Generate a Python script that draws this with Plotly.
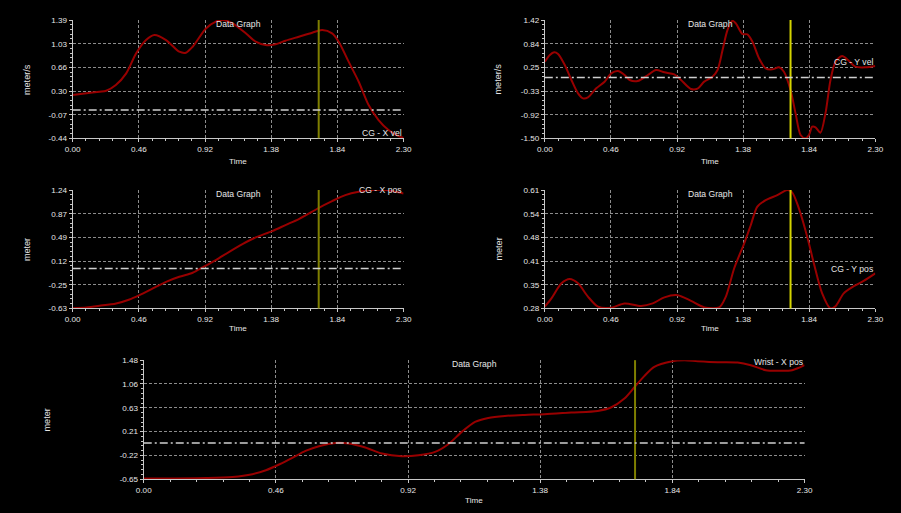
import plotly.graph_objects as go
import numpy as np

W, H = 901, 513

# ---------------- data ----------------
x_ticktext = ["0.00", "0.46", "0.92", "1.38", "1.84", "2.30"]
x_range = [0.0, 2.30]
cursor_time = 1.71

# Panel 1: CG - X vel
t1 = [0, 0.095, 0.187, 0.233, 0.30, 0.372, 0.441, 0.51, 0.568, 0.649, 0.741, 0.787, 0.834, 0.926,
      0.995, 1.041, 1.111, 1.203, 1.272, 1.341, 1.41, 1.479, 1.572, 1.665, 1.734, 1.803, 1.849,
      1.918, 1.988, 2.057, 2.126, 2.195, 2.265, 2.30]
v1 = [0.23, 0.256, 0.282, 0.297, 0.385, 0.565, 0.874, 1.08, 1.158, 1.08, 0.90, 0.885, 0.977, 1.26,
      1.364, 1.39, 1.338, 1.184, 1.055, 1.003, 1.014, 1.07, 1.132, 1.194, 1.235, 1.184, 1.055,
      0.746, 0.436, 0.075, -0.157, -0.311, -0.404, -0.43]
y1_ticktext = ["-0.44", "-0.07", "0.30", "0.66", "1.03", "1.39"]
y1_range = [-0.44, 1.39]

# Panel 2: CG - Y vel
t2 = [0, 0.035, 0.065, 0.092, 0.139, 0.185, 0.231, 0.266, 0.30, 0.358, 0.416, 0.462, 0.509, 0.555,
      0.59, 0.647, 0.717, 0.774, 0.832, 0.901, 0.948, 1.017, 1.063, 1.109, 1.167, 1.202, 1.237,
      1.271, 1.306, 1.329, 1.375, 1.41, 1.445, 1.491, 1.537, 1.583, 1.63, 1.664, 1.71, 1.745,
      1.78, 1.814, 1.838, 1.861, 1.884, 1.918, 1.953, 1.988, 2.023, 2.069, 2.115, 2.161, 2.231, 2.30]
v2 = [0.39, 0.556, 0.622, 0.581, 0.31, -0.06, -0.39, -0.513, -0.488, -0.266, -0.102, 0.104, 0.162,
      0.063, -0.06, -0.085, 0.063, 0.186, 0.129, 0.079, -0.06, -0.283, -0.274, -0.1, 0.022, 0.186,
      0.68, 1.173, 1.40, 1.338, 1.075, 1.066, 0.885, 0.474, 0.227, 0.203, 0.252, 0.145, -0.307,
      -0.883, -1.418, -1.50, -1.418, -1.212, -1.228, -1.36, -0.883, -0.06, 0.392, 0.532, 0.417,
      0.268, 0.252, 0.285]
y2_ticktext = ["-1.50", "-0.92", "-0.33", "0.25", "0.84", "1.42"]
y2_range = [-1.50, 1.42]

# Panel 3: CG - X pos
t3 = [0, 0.095, 0.187, 0.302, 0.395, 0.464, 0.557, 0.649, 0.741, 0.834, 0.903, 0.995, 1.088, 1.18,
      1.272, 1.387, 1.479, 1.572, 1.665, 1.711, 1.803, 1.895, 1.988, 2.08, 2.172, 2.30]
v3 = [-0.625, -0.614, -0.588, -0.551, -0.488, -0.419, -0.314, -0.209, -0.13, -0.066, 0.018, 0.134,
      0.265, 0.387, 0.492, 0.592, 0.687, 0.782, 0.898, 0.96, 1.066, 1.161, 1.214, 1.24, 1.24, 1.187]
y3_ticktext = ["-0.63", "-0.25", "0.12", "0.49", "0.87", "1.24"]
y3_range = [-0.63, 1.24]

# Panel 4: CG - Y pos
t4 = [0, 0.046, 0.116, 0.173, 0.231, 0.30, 0.37, 0.462, 0.555, 0.67, 0.751, 0.832, 0.925, 1.017,
      1.11, 1.214, 1.26, 1.318, 1.387, 1.433, 1.479, 1.537, 1.618, 1.687, 1.722, 1.768, 1.826,
      1.872, 1.93, 1.988, 2.023, 2.08, 2.15, 2.219, 2.30]
v4 = [0.285, 0.308, 0.35, 0.362, 0.35, 0.313, 0.285, 0.282, 0.294, 0.287, 0.294, 0.311, 0.317,
      0.301, 0.283, 0.283, 0.313, 0.392, 0.461, 0.512, 0.564, 0.582, 0.596, 0.61, 0.603, 0.559,
      0.48, 0.406, 0.322, 0.28, 0.286, 0.322, 0.342, 0.357, 0.378]
y4_ticktext = ["0.28", "0.35", "0.41", "0.48", "0.54", "0.61"]
y4_range = [0.28, 0.61]

# Panel 5: Wrist - X pos
t5 = [0, 0.216, 0.309, 0.378, 0.425, 0.471, 0.517, 0.563, 0.61, 0.667, 0.714, 0.771, 0.829, 0.898,
      0.956, 1.014, 1.06, 1.107, 1.153, 1.199, 1.257, 1.326, 1.395, 1.488, 1.58, 1.626, 1.673,
      1.707, 1.742, 1.777, 1.835, 1.882, 1.928, 1.997, 2.067, 2.113, 2.165, 2.205, 2.257, 2.30]
v5 = [-0.638, -0.627, -0.609, -0.56, -0.49, -0.387, -0.269, -0.143, -0.059, 0.0, -0.011, -0.083,
      -0.19, -0.238, -0.221, -0.161, -0.024, 0.197, 0.376, 0.447, 0.483, 0.501, 0.513, 0.543,
      0.572, 0.633, 0.794, 0.991, 1.194, 1.36, 1.457, 1.478, 1.462, 1.444, 1.438, 1.39, 1.30,
      1.29, 1.30, 1.39]
y5_ticktext = ["-0.65", "-0.22", "0.21", "0.63", "1.06", "1.48"]
y5_range = [-0.65, 1.48]

# layout positions given in target-picture pixels
panels = [
    dict(t=t1, v=v1, yt=y1_ticktext, yr=y1_range, ytitle="meter/s", name="CG - X vel",
         box=(73, 405, 20, 138.3), cursor="#7f7f00", zero=True,
         title_y=24, name_y=133, ylab_x=27, xlab_y=161),
    dict(t=t2, v=v2, yt=y2_ticktext, yr=y2_range, ytitle="meter/s", name="CG - Y vel",
         box=(546.7, 878.3, 20, 138.3), cursor="#d4d400", zero=True,
         title_y=24, name_y=62, ylab_x=500, xlab_y=161),
    dict(t=t3, v=v3, yt=y3_ticktext, yr=y3_range, ytitle="meter", name="CG - X pos",
         box=(73, 405, 190, 308.3), cursor="#7f7f00", zero=True,
         title_y=194, name_y=190, ylab_x=27, xlab_y=328),
    dict(t=t4, v=v4, yt=y4_ticktext, yr=y4_range, ytitle="meter", name="CG - Y pos",
         box=(546.7, 878.3, 190, 308.3), cursor="#d4d400", zero=False,
         title_y=194, name_y=269, ylab_x=501, xlab_y=328),
    dict(t=t5, v=v5, yt=y5_ticktext, yr=y5_range, ytitle="meter", name="Wrist - X pos",
         box=(144.3, 807.3, 360, 479), cursor="#7f7f00", zero=True,
         title_y=364, name_y=362, ylab_x=47, xlab_y=500),
]

# picture -> figure pixel compensation (observed capture offset/scale)
SX, OX, SY, OY = 0.9855, 8.1, 0.982, 4.0

def px(x):
    return ((x - OX) / SX) / W

def py(y):
    return 1 - ((y - OY) / SY) / H

FONT = "Liberation Sans, Arial, sans-serif"
TXT = "#e6e6e6"
GRID = "#8c8c8c"

fig = go.Figure()
layout = dict(
    width=W, height=H, margin=dict(l=0, r=0, t=0, b=0),
    paper_bgcolor="black", plot_bgcolor="black",
    showlegend=False, font=dict(family=FONT, color=TXT, size=8),
)
shapes = []
annotations = []

for i, p in enumerate(panels, start=1):
    xa = "x" if i == 1 else f"x{i}"
    ya = "y" if i == 1 else f"y{i}"
    x0, x1, ytop, ybot = p["box"]
    fig.add_trace(go.Scatter(x=p["t"], y=p["v"], mode="lines", xaxis=xa, yaxis=ya,
                             line=dict(color="#980000", width=2, shape="spline", smoothing=0.8),
                             hoverinfo="skip"))
    ylo, yhi = p["yr"]
    yvals = list(np.linspace(ylo, yhi, 6))
    common = dict(showline=True, linecolor="#c8c8c8", linewidth=1, ticks="outside",
                  ticklen=3, tickcolor="#c8c8c8", showgrid=True, gridcolor=GRID,
                  griddash="3px,2px", gridwidth=1, zeroline=False,
                  tickfont=dict(family=FONT, size=8.1, color=TXT), fixedrange=True)
    layout["xaxis" if i == 1 else f"xaxis{i}"] = dict(
        common, domain=[px(x0), px(x1)], anchor=ya, range=x_range,
        tickmode="array", tickvals=list(np.linspace(0, 2.30, 6)), ticktext=x_ticktext,
        minor=dict(ticks="outside", ticklen=2, tickcolor="#c8c8c8", tickmode="linear",
                   tick0=0, dtick=0.092, showgrid=False))
    layout["yaxis" if i == 1 else f"yaxis{i}"] = dict(
        common, domain=[py(ybot), py(ytop)], anchor=xa, range=[ylo, yhi + 1e-9],
        tickmode="array", tickvals=yvals, ticktext=p["yt"],
        minor=dict(ticks="outside", ticklen=2, tickcolor="#c8c8c8", tickmode="linear",
                   tick0=ylo, dtick=(yhi - ylo) / 25, showgrid=False))
    shapes.append(dict(type="line", xref=xa, yref=f"{ya} domain", x0=cursor_time, x1=cursor_time,
                       y0=0, y1=1, line=dict(color=p["cursor"], width=2), layer="above"))
    if p["zero"]:
        shapes.append(dict(type="line", xref=f"{xa} domain", yref=ya, x0=0, x1=1, y0=0, y1=0,
                           line=dict(color="#cfcfcf", width=1.5, dash="8px,3px,2px,3px"),
                           layer="above"))
    cx = (x0 + x1) / 2
    annotations += [
        dict(text="Data Graph", x=px(cx), y=py(p["title_y"]), xref="paper", yref="paper",
             xanchor="center", yanchor="middle", showarrow=False,
             font=dict(family=FONT, size=8.6, color=TXT)),
        dict(text=p["name"], x=px(x1), y=py(p["name_y"]), xref="paper", yref="paper",
             xanchor="right", yanchor="middle", showarrow=False,
             font=dict(family=FONT, size=8.6, color=TXT)),
        dict(text="Time", x=px(cx), y=py(p["xlab_y"]), xref="paper", yref="paper",
             xanchor="center", yanchor="middle", showarrow=False,
             font=dict(family=FONT, size=8.1, color=TXT)),
        dict(text=p["ytitle"], x=px(p["ylab_x"]), y=py((ytop + ybot) / 2), xref="paper",
             yref="paper", xanchor="center", yanchor="middle", showarrow=False, textangle=-90,
             font=dict(family=FONT, size=9.1, color=TXT)),
    ]

layout["shapes"] = shapes
layout["annotations"] = annotations
fig.update_layout(**layout)

bg = ("linear-gradient(to right, #fff 0px, #fff 8px, rgba(0,0,0,0) 8px), "
      "linear-gradient(to bottom, #fff 0px, #fff 2px, #000 2px)")
post = ("document.documentElement.style.margin='0';document.documentElement.style.padding='0';"
        "document.documentElement.style.overflow='hidden';"
        "document.documentElement.style.background='" + bg + "';"
        "document.documentElement.style.backgroundRepeat='no-repeat';"
        "document.documentElement.style.backgroundColor='black';"
        "document.body.style.margin='0';document.body.style.padding='0';"
        "document.body.style.overflow='hidden';document.body.style.background='transparent';")
fig.write_html("out.html", config={"displayModeBar": False}, post_script=post)
